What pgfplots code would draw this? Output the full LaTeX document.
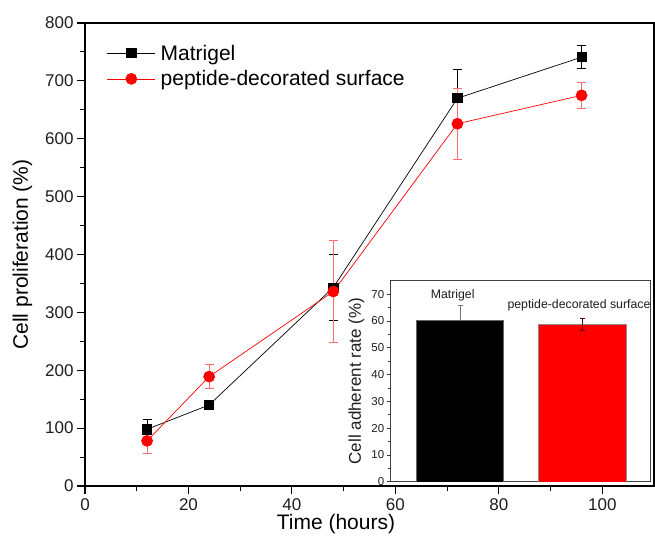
\documentclass[border=0pt]{standalone}
\usepackage{fontspec}
\setmainfont{Liberation Sans}
\usepackage{pgfplots}
\pgfplotsset{compat=1.18}

\definecolor{errred}{RGB}{255,110,110}
\definecolor{txt}{RGB}{30,30,30}

\begin{document}
\begin{tikzpicture}
\begin{axis}[
    at={(0pt,0pt)}, anchor=south west,
    scale only axis,
    width=569pt, height=463pt,
    xmin=0, xmax=110, ymin=0, ymax=800,
    xtick={0,20,...,100}, minor x tick num=1,
    ytick={0,100,...,800}, minor y tick num=1,
    tick pos=left, tick align=outside,
    major tick length=8pt, minor tick length=5pt,
    every tick/.style={black, line width=1.1pt},
    axis line style={line width=1.5pt},
    /pgf/number format/assume math mode=true,
    ticklabel style={font=\fontsize{17}{19}\selectfont, text=txt},
    xticklabel style={yshift=-1pt},
    xlabel={Time (hours)},
    ylabel={Cell proliferation (\%)},
    label style={font=\fontsize{21}{24}\selectfont},
    xlabel style={at={(axis description cs:0.441,0)}, anchor=base, yshift=-43pt},
    ylabel style={at={(axis description cs:0,0.5)}, anchor=base, yshift=57pt},
    legend style={draw=none, fill=none, at={(axis description cs:0.033,0.962)},
        anchor=north west, font=\fontsize{21}{24}\selectfont, row sep=5pt,
        nodes={inner xsep=5pt}},
    legend cell align=left,
    legend image code/.code={%
        \draw[mark repeat=2,mark phase=2,#1] plot coordinates {(0pt,0pt) (24pt,0pt) (48pt,0pt)};},
]
\addplot[black, line width=0.7pt, mark=square*, mark size=4.6pt,
    error bars/.cd, y dir=both, y explicit,
    error bar style={black, line width=0.7pt},
    error mark options={rotate=90, mark size=4.5pt, black, line width=0.7pt}]
coordinates {
    (12,98) +- (0,17)
    (24,140) +- (0,0)
    (48,343) +- (0,57)
    (72,670) +- (0,50)
    (96,741) +- (0,20)
};
\addlegendentry{Matrigel}
\addplot[red, line width=0.7pt, mark=*, mark size=5.5pt,
    mark options={fill=red, draw=red},
    error bars/.cd, y dir=both, y explicit,
    error bar style={errred, line width=0.9pt},
    error mark options={rotate=90, mark size=4.5pt, errred, line width=0.9pt}]
coordinates {
    (12,78) +- (0,22)
    (24,189) +- (0,21)
    (48,336) +- (0,88)
    (72,626) +- (0,61)
    (96,675) +- (0,23)
};
\addlegendentry{peptide-decorated surface}
\end{axis}

\begin{axis}[
    at={(305.7pt,4.3pt)}, anchor=south west,
    scale only axis,
    width=260pt, height=201pt,
    axis background/.style={fill=white},
    xmin=0.432, xmax=2.563, ymin=0, ymax=75,
    xtick=\empty,
    ytick={0,10,...,70}, minor y tick num=1,
    ytick pos=left, tick align=outside,
    major tick length=4pt, minor tick length=2.5pt,
    every tick/.style={black!80, line width=0.6pt},
    axis line style={black!75, line width=0.8pt},
    /pgf/number format/assume math mode=true,
    ticklabel style={font=\fontsize{11.5}{13}\selectfont, text=txt},
    yticklabel style={xshift=1pt},
    ylabel={Cell adherent rate (\%)},
    ylabel style={font=\fontsize{17}{19}\selectfont, text=txt, yshift=0pt},
]
\addplot[ybar, bar width=87pt, bar shift=0pt, fill=black, draw=black!60,
    error bars/.cd, y dir=plus, y explicit,
    error bar style={black!55, line width=0.7pt},
    error mark options={rotate=90, mark size=2.5pt, black!55, line width=0.7pt}]
coordinates {(1,60.2) +- (0,5.6)};
\addplot[ybar, bar width=88pt, bar shift=0pt, fill=red, draw=black!45,
    error bars/.cd, y dir=both, y explicit,
    error bar style={black!55!red, line width=0.6pt},
    error mark options={rotate=90, mark size=2.5pt, black!55!red, line width=0.6pt}]
coordinates {(2,58.7) +- (0,2.2)};
\node[font=\fontsize{12.3}{14}\selectfont, text=txt] at (axis cs:0.94,69.4) {Matrigel};
\node[font=\fontsize{12.3}{14}\selectfont, text=txt] at (axis cs:1.975,65.7) {peptide-decorated surface};
\end{axis}

\pgfresetboundingbox
\path[use as bounding box] (-85pt,-57pt) rectangle (570pt,486pt);
\end{tikzpicture}
\end{document}
